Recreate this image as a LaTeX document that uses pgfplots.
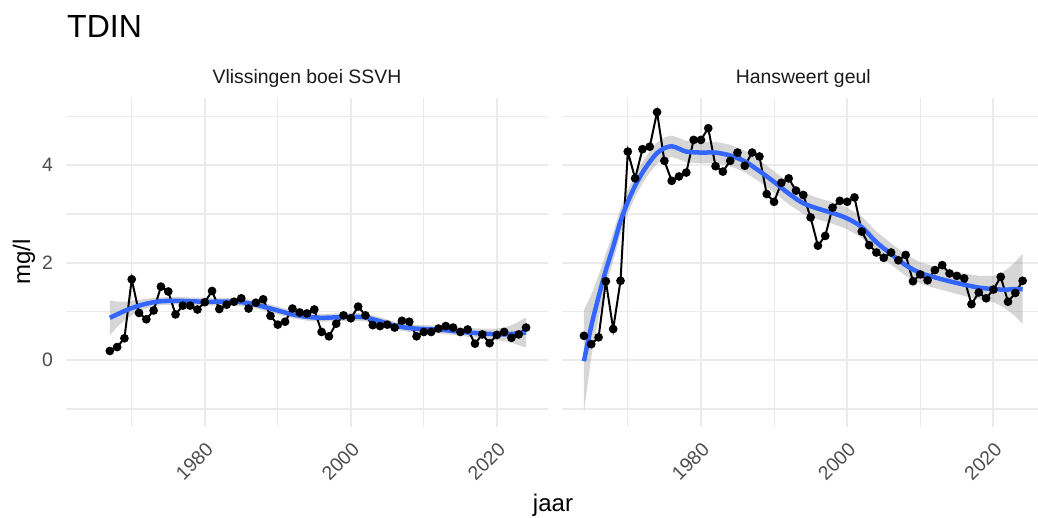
\documentclass[border=0pt]{standalone}
\usepackage{fontspec}
\setmainfont{Liberation Sans}
\usepackage{pgfplots}
\usepackage{pgfplotstable}
\pgfplotsset{compat=1.18}
\usepgfplotslibrary{fillbetween}
\definecolor{gridc}{HTML}{EBEBEB}
\definecolor{tickc}{HTML}{4D4D4D}
\definecolor{stripc}{HTML}{1A1A1A}
\definecolor{smoothc}{HTML}{3366FF}

\pgfplotstableread{
year val
1967 0.19
1968 0.27
1969 0.45
1970 1.66
1971 0.97
1972 0.84
1973 1.02
1974 1.51
1975 1.41
1976 0.94
1977 1.12
1978 1.12
1979 1.04
1980 1.19
1981 1.42
1982 1.05
1983 1.14
1984 1.20
1985 1.27
1986 1.06
1987 1.18
1988 1.25
1989 0.91
1990 0.73
1991 0.79
1992 1.06
1993 0.98
1994 0.96
1995 1.04
1996 0.58
1997 0.49
1998 0.75
1999 0.92
2000 0.86
2001 1.10
2002 0.92
2003 0.72
2004 0.70
2005 0.73
2006 0.67
2007 0.81
2008 0.79
2009 0.49
2010 0.58
2011 0.58
2012 0.65
2013 0.70
2014 0.67
2015 0.58
2016 0.63
2017 0.34
2018 0.53
2019 0.35
2020 0.52
2021 0.58
2022 0.46
2023 0.53
2024 0.67
}\vlisdata

\pgfplotstableread{
year fit lo hi
1967 0.87 0.51 1.23
1968 0.94 0.68 1.20
1969 1.01 0.82 1.20
1970 1.07 0.92 1.22
1971 1.12 1.00 1.24
1972 1.16 1.06 1.26
1973 1.19 1.10 1.28
1974 1.21 1.13 1.29
1976 1.22 1.14 1.30
1978 1.21 1.13 1.29
1980 1.20 1.12 1.28
1982 1.20 1.12 1.28
1984 1.20 1.12 1.28
1985 1.19 1.11 1.27
1986 1.17 1.09 1.25
1987 1.14 1.06 1.22
1988 1.10 1.02 1.18
1990 1.02 0.94 1.10
1992 0.94 0.86 1.02
1994 0.89 0.81 0.97
1996 0.87 0.79 0.95
1998 0.88 0.80 0.96
2000 0.89 0.81 0.97
2002 0.88 0.80 0.96
2003 0.84 0.76 0.92
2004 0.80 0.72 0.88
2006 0.71 0.63 0.79
2008 0.66 0.58 0.74
2010 0.64 0.56 0.72
2012 0.63 0.55 0.71
2014 0.60 0.52 0.68
2016 0.57 0.48 0.66
2018 0.55 0.45 0.65
2020 0.53 0.41 0.65
2021 0.53 0.39 0.67
2022 0.54 0.36 0.72
2023 0.55 0.31 0.79
2024 0.57 0.26 0.88
}\vlisfit

\pgfplotstableread{
year val
1964 0.50
1965 0.33
1966 0.47
1967 1.62
1968 0.64
1969 1.63
1970 4.28
1971 3.73
1972 4.33
1973 4.38
1974 5.09
1975 4.09
1976 3.68
1977 3.77
1978 3.85
1979 4.52
1980 4.52
1981 4.76
1982 3.98
1983 3.87
1984 4.09
1985 4.26
1986 3.99
1987 4.26
1988 4.18
1989 3.41
1990 3.25
1991 3.64
1992 3.73
1993 3.48
1994 3.39
1995 2.93
1996 2.35
1997 2.55
1998 3.13
1999 3.27
2000 3.25
2001 3.34
2002 2.64
2003 2.36
2004 2.21
2005 2.10
2006 2.21
2007 2.05
2008 2.16
2009 1.62
2010 1.76
2011 1.64
2012 1.85
2013 1.95
2014 1.78
2015 1.73
2016 1.68
2017 1.15
2018 1.39
2019 1.27
2020 1.45
2021 1.71
2022 1.20
2023 1.38
2024 1.63
}\hansdata

\pgfplotstableread{
year fit lo hi
1964 -0.02 -1.07 1.03
1965 0.70 0.06 1.34
1966 1.30 0.86 1.74
1967 1.85 1.51 2.19
1968 2.33 2.04 2.62
1969 2.85 2.59 3.11
1970 3.25 3.01 3.49
1971 3.58 3.35 3.81
1972 3.85 3.63 4.07
1973 4.07 3.85 4.29
1974 4.25 4.03 4.47
1975 4.35 4.13 4.57
1976 4.39 4.17 4.61
1977 4.34 4.12 4.56
1978 4.28 4.06 4.50
1980 4.26 4.04 4.48
1982 4.26 4.04 4.48
1984 4.20 3.98 4.42
1986 4.08 3.86 4.30
1988 3.88 3.66 4.10
1990 3.66 3.44 3.88
1992 3.42 3.20 3.64
1994 3.22 3.00 3.44
1996 3.11 2.89 3.33
1998 3.02 2.80 3.24
2000 2.91 2.69 3.13
2002 2.73 2.51 2.95
2004 2.42 2.20 2.64
2006 2.18 1.96 2.40
2008 1.95 1.73 2.17
2010 1.79 1.57 2.01
2012 1.70 1.48 1.92
2014 1.62 1.40 1.84
2016 1.55 1.32 1.78
2018 1.49 1.25 1.73
2020 1.46 1.19 1.73
2021 1.45 1.12 1.78
2022 1.45 1.02 1.88
2023 1.46 0.90 2.02
2024 1.46 0.74 2.18
}\hansfit

\pgfplotsset{
  panel/.style={
    scale only axis, height=329bp, ymin=-1.37, ymax=5.38, xmin=1961,
    axis line style={draw=none}, tick style={draw=none},
    major tick length=0pt, minor tick length=0pt,
    xtick={1980,2000,2020}, xticklabels={1980,2000,2020},
    minor xtick={1970,1990,2010},
    ytick={0,2,4}, minor ytick={-1,1,3,5},
    grid=both,
    major grid style={gridc, line width=2bp},
    minor grid style={gridc, line width=1.1bp},
    tick label style={font=\fontsize{19.4bp}{22bp}\selectfont, text=tickc},
    xticklabel style={yshift=-14bp, xshift=0bp, rotate=45, anchor=north east, inner sep=0pt},
    yticklabel style={anchor=east, inner sep=0pt, xshift=-13bp},
    /pgf/number format/assume math mode=true,
    clip=false,
  },
  ribbon/.style={fill=black!40, fill opacity=0.4, draw=none},
  obs/.style={black, line width=2bp, mark=*, mark size=3.3bp, mark options={fill=black, draw=none}},
  fitl/.style={smoothc, line width=4.5bp, mark=none, smooth, tension=0.5},
}

\begin{document}
\begin{tikzpicture}

\begin{axis}[panel, at={(66bp,91bp)}, anchor=south west, width=482bp, xmax=2027,
  yticklabels={0,2,4}]
  \addplot[draw=none, mark=none, forget plot, name path=vu] table[x=year, y=hi] {\vlisfit};
  \addplot[draw=none, mark=none, forget plot, name path=vl] table[x=year, y=lo] {\vlisfit};
  \addplot[ribbon, forget plot] fill between[of=vu and vl];
  \addplot[obs] table[x=year, y=val] {\vlisdata};
  \addplot[fitl] table[x=year, y=fit] {\vlisfit};
  \node[anchor=base, inner sep=0pt, yshift=14bp, text=stripc, font=\fontsize{19.4bp}{22bp}\selectfont] at (rel axis cs:0.5,1) {Vlissingen boei SSVH};
\end{axis}

\begin{axis}[panel, at={(562bp,91bp)}, anchor=south west, width=476bp, xmax=2026.1,
  yticklabels={}]
  \addplot[draw=none, mark=none, forget plot, name path=hu] table[x=year, y=hi] {\hansfit};
  \addplot[draw=none, mark=none, forget plot, name path=hl] table[x=year, y=lo] {\hansfit};
  \addplot[ribbon, forget plot] fill between[of=hu and hl];
  \addplot[obs] table[x=year, y=val] {\hansdata};
  \addplot[fitl] table[x=year, y=fit] {\hansfit};
  \node[anchor=base, inner sep=0pt, yshift=14bp, text=stripc, font=\fontsize{19.4bp}{22bp}\selectfont] at (axis cs:1994,5.38) {Hansweert geul};
\end{axis}

\node[anchor=base west, inner sep=0pt, font=\fontsize{32bp}{36bp}\selectfont] at (67bp,480bp) {TDIN};
\node[anchor=base, inner sep=0pt, font=\fontsize{24bp}{28bp}\selectfont] at (553bp,7bp) {jaar};
\node[anchor=base, rotate=90, inner sep=0pt, font=\fontsize{24bp}{28bp}\selectfont] at (30bp,256bp) {mg/l};
\pgfresetboundingbox
\path[use as bounding box] (0,0) rectangle (1038bp,518bp);
\end{tikzpicture}
\end{document}
